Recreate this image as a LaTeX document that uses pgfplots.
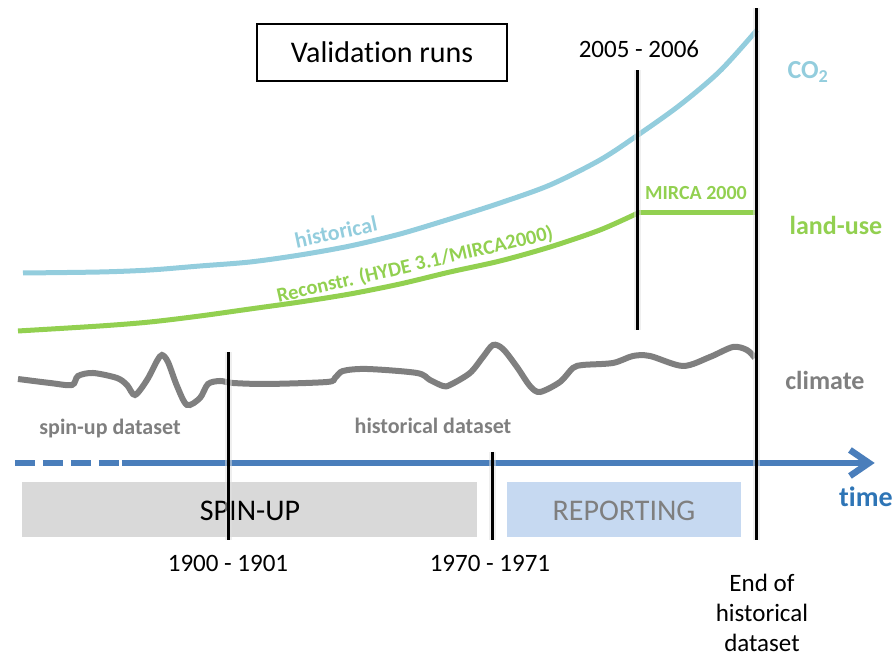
\documentclass[border=0pt]{standalone}
\usepackage{fontspec}
\setmainfont{Carlito}[Ligatures={NoCommon}]
\usepackage{pgfplots}
\pgfplotsset{compat=1.18}
\definecolor{co2blue}{RGB}{147,205,221}
\definecolor{lugreen}{RGB}{146,208,80}
\definecolor{clgrey}{RGB}{127,127,127}
\definecolor{tlblue}{RGB}{74,126,187}
\definecolor{timeblue}{RGB}{46,117,182}
\definecolor{boxgrey}{RGB}{217,217,217}
\definecolor{boxblue}{RGB}{198,217,241}
\newcommand{\fs}[1]{\fontsize{#1}{#1}\selectfont}
\begin{document}
\begin{tikzpicture}
\begin{axis}[x=1pt,y=1pt,y dir=reverse,xmin=0,xmax=896,ymin=0,ymax=657,
  hide axis,clip=false]
\path (axis cs:0,0) rectangle (axis cs:896,657);
% phase boxes
\addplot[fill=boxgrey,draw=none] coordinates {(22,482)(477,482)(477,537)(22,537)} --cycle;
\addplot[fill=boxblue,draw=none] coordinates {(507,482)(741,482)(741,537)(507,537)} --cycle;
\node[font=\fs{30}] at (axis cs:250,511) {SPIN-UP};
\node[font=\fs{30},text=clgrey] at (axis cs:624,511) {REPORTING};
% time axis
\addplot[tlblue,line width=6pt,dash pattern=on 20pt off 8pt] coordinates {(15,463)(120,463)};
\addplot[tlblue,line width=6pt] coordinates {(122,463)(868,463)};
\addplot[tlblue,line width=6.5pt,line join=miter] coordinates {(850,450)(869,463)(850,476)};
\node[font=\fs{28}\bfseries,text=timeblue] at (axis cs:866,497) {time};
% CO2
\addplot[co2blue,line width=5pt,smooth] coordinates {
(23,273)(100,272)(150,270)(200,266)(250,262)(300,255)(350,246)(400,234)
(450,219)(500,203)(550,185)(600,160)(638,135)(680,105)(720,71)(757,30)};
% land use
\addplot[lugreen,line width=5pt,smooth] coordinates {
(18,331)(100,326)(150,322)(200,316)(250,309)(300,302)(350,294)(400,284)
(450,272)(500,261)(550,247)(600,230)(638,213)};
\addplot[lugreen,line width=5pt] coordinates {(638,213)(757,213)};
% climate
\addplot[clgrey,line width=6pt,smooth,tension=0.5] coordinates {
(18,379)(50,383)(72,385)(78,376)(93,373)(117,378)(127,385)(135,395)(147,380)
(157,361)(162,355)(168,362)(177,386)(187,405)(200,398)(208,384)(220,381)
(233,383)(267,384)(327,382)(335,378)(343,371)(367,369)(417,373)(430,380)
(443,386)(450,385)(470,373)(483,357)(493,345)(503,349)(517,367)(530,386)
(540,392)(560,382)(573,368)(583,365)(613,363)(633,356)(650,356)(683,366)
(710,357)(733,347)(747,350)(755,358)};
% labels
\node[draw=black,line width=2pt,minimum width=250pt,minimum height=57pt,font=\fs{30}]
  at (axis cs:382,52) {Validation runs};
\node[inner sep=0pt,font=\fs{22}\bfseries,text=co2blue,rotate=12] at (axis cs:336,232) {historical};
\node[inner sep=0pt,font=\fs{20.5}\bfseries,text=lugreen,rotate=13] at (axis cs:415,265) {Reconstr. (HYDE 3.1/MIRCA2000)};
\node[inner sep=0pt,font=\fs{20}\bfseries,text=lugreen] at (axis cs:696,193) {MIRCA 2000};
\node[font=\fs{26}\bfseries,text=co2blue] at (axis cs:808,72) {CO\textsubscript{2}};
\node[font=\fs{26}\bfseries,text=lugreen] at (axis cs:836,225) {land-use};
\node[font=\fs{26}\bfseries,text=clgrey] at (axis cs:825,380) {climate};
\node[font=\fs{22}\bfseries,text=clgrey] at (axis cs:110,429) {spin-up dataset};
\node[font=\fs{22}\bfseries,text=clgrey] at (axis cs:433,426) {historical dataset};
\node[font=\fs{25}] at (axis cs:639,49) {2005 - 2006};
\node[font=\fs{25}] at (axis cs:228,563) {1900 - 1901};
\node[font=\fs{25}] at (axis cs:490,563) {1970 - 1971};
\node[font=\fs{25},align=center] at (axis cs:762,613) {End of\\[5pt]historical\\[5pt]dataset};
% vertical markers with faint shadow
\addplot[black!12,line width=7pt,opacity=0.5] coordinates {(229,352)(229,540)};
\addplot[black!12,line width=7pt,opacity=0.5] coordinates {(493,452)(493,540)};
\addplot[black!12,line width=7pt,opacity=0.5] coordinates {(638,70)(638,330)};
\addplot[black!12,line width=7pt,opacity=0.5] coordinates {(757,8)(757,540)};
\addplot[black,line width=3pt] coordinates {(229,352)(229,540)};
\addplot[black,line width=3pt] coordinates {(493,452)(493,540)};
\addplot[black,line width=3pt] coordinates {(638,70)(638,330)};
\addplot[black,line width=3pt] coordinates {(757,8)(757,540)};
\end{axis}
\end{tikzpicture}
\end{document}
